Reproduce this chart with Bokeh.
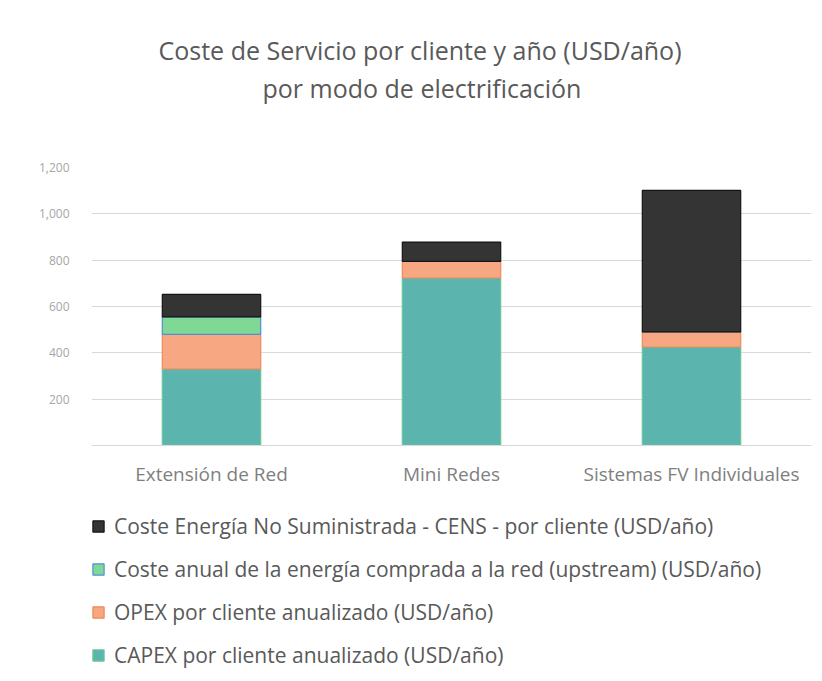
from bokeh.plotting import figure
from bokeh.models import (Range1d, FactorRange, Legend, LegendItem, Title,
                          FixedTicker, NumeralTickFormatter, ColumnDataSource)
from bokeh.embed import file_html
from bokeh.resources import INLINE

categories = ["Extensión de Red", "Mini Redes", "Sistemas FV Individuales"]
capex = [330, 723, 425]
opex = [150, 72, 65]
upstream = [75, 0, 0]
cens = [97, 83, 611]

series_keys = ["capex", "opex", "upstream", "cens"]
series_labels = [
    "CAPEX por cliente anualizado (USD/año)",
    "OPEX por cliente anualizado (USD/año)",
    "Coste anual de la energía comprada a la red (upstream) (USD/año)",
    "Coste Energía No Suministrada - CENS - por cliente (USD/año)",
]
fill_colors = ["#5BB5AE", "#F7A782", "#7FD894", "#343434"]
line_colors = ["#6CC59A", "#EE8A55", "#4F8FD8", "#151515"]

y_ticks = [0, 200, 400, 600, 800, 1000, 1200]

title_line1 = "Coste de Servicio por cliente y año (USD/año)"
title_line2 = "por modo de electrificación"

source = ColumnDataSource(data=dict(cat=categories, capex=capex, opex=opex,
                                    upstream=upstream, cens=cens))

# frame extends to the bottom of the canvas so the legend can sit inside it;
# the value axis spans 0..1200 between y=445 and y=167 (px)
p = figure(width=822, height=681, output_backend="svg", toolbar_location=None,
           x_range=FactorRange(*categories, range_padding=0),
           y_range=Range1d(-1019, 1200),
           min_border_left=91, min_border_right=11,
           min_border_top=167, min_border_bottom=0)
p.title = None
p.outline_line_color = None
p.background_fill_color = "white"
p.border_fill_color = "white"

renderers = p.vbar_stack(series_keys, x="cat", width=0.41, source=source,
                         fill_color=fill_colors, line_color=line_colors,
                         line_width=1.2)

title_kw = dict(align="left", text_font="Open Sans", text_font_size="25px",
                text_font_style="normal", text_color="#595959")
spacer = Title(text=" ", standoff=27, **title_kw)
t2 = Title(text=title_line2, offset=171, standoff=0, **title_kw)
t1 = Title(text=title_line1, offset=67, standoff=4, **title_kw)
p.add_layout(spacer, "above")
p.add_layout(t2, "above")
p.add_layout(t1, "above")

# x axis pinned at value 0
p.xaxis.fixed_location = 0
p.xaxis.axis_line_color = "#d9d9d9"
p.xaxis.major_tick_line_color = None
p.xaxis.minor_tick_line_color = None
p.xaxis.major_label_text_font = "Open Sans"
p.xaxis.major_label_text_font_size = "19px"
p.xaxis.major_label_text_color = "#7f7f7f"
p.xaxis.major_label_standoff = 10

p.yaxis.ticker = FixedTicker(ticks=y_ticks)
p.yaxis.formatter = NumeralTickFormatter(format="0,0")
p.yaxis.major_label_overrides = {0: ""}
p.yaxis.axis_line_color = None
p.yaxis.major_tick_line_color = None
p.yaxis.minor_tick_line_color = None
p.yaxis.major_label_text_font = "Open Sans"
p.yaxis.major_label_text_font_size = "12px"
p.yaxis.major_label_text_color = "#a6a6a6"
p.yaxis.major_label_standoff = 16

p.xgrid.grid_line_color = None
p.ygrid.ticker = FixedTicker(ticks=y_ticks)
p.ygrid.grid_line_color = "#d9d9d9"
p.ygrid.grid_line_width = 1

items = [LegendItem(label=series_labels[i], renderers=[renderers[i]])
         for i in [3, 2, 1, 0]]
legend = Legend(items=items, location=(0, 12), orientation="vertical",
                padding=0, margin=0, spacing=15, glyph_width=14, glyph_height=14,
                label_height=20, label_standoff=9,
                label_text_font="Open Sans", label_text_font_size="21px",
                label_text_color="#595959",
                border_line_color=None, background_fill_alpha=0)
p.add_layout(legend, "center")

open("out.html", "w").write(file_html(p, INLINE))
